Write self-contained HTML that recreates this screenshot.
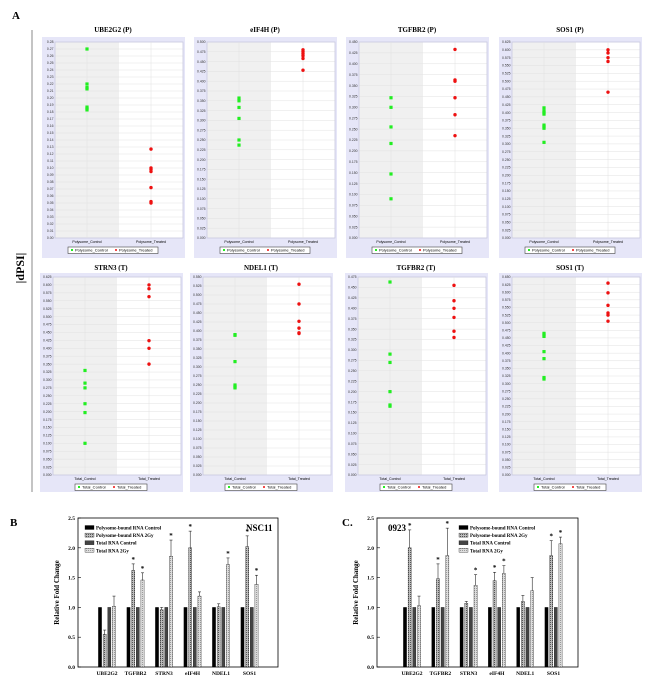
<!DOCTYPE html>
<html><head><meta charset="utf-8"><style>
html,body{margin:0;padding:0;background:#fff;}
svg{display:block;font-family:"Liberation Serif",serif;}
.s{font-family:"Liberation Sans",sans-serif;}
</style></head><body>
<svg id="fig" width="650" height="682" viewBox="0 0 650 682" xmlns="http://www.w3.org/2000/svg">
<text x="12" y="19" font-size="11" font-weight="bold">A</text>
<line x1="32" y1="30" x2="32" y2="492" stroke="#888" stroke-width="1"/>
<text transform="translate(24,268) rotate(-90)" font-size="12" font-weight="bold" text-anchor="middle">|dPSI|</text>
<text x="10" y="526" font-size="11" font-weight="bold">B</text>
<text x="342" y="526" font-size="11" font-weight="bold">C.</text>
<g id="scatters"></g>
<g id="bars"></g>
</svg>
<script>
// ---- Scatter panel data ----
const scTitles = ["UBE2G2 (P)","eIF4H (P)","TGFBR2 (P)","SOS1 (P)","STRN3 (T)","NDEL1 (T)","TGFBR2  (T)","SOS1 (T)"];
const scMax = [0.28,0.5,0.45,0.625,0.625,0.55,0.475,0.65];
const scStep = [0.01,0.025,0.025,0.025,0.025,0.025,0.025,0.025];
const scGreen = [
 [0.27,0.22,0.215,0.213,0.187,0.185,0.183],
 [0.357,0.35,0.333,0.305,0.25,0.237],
 [0.322,0.30,0.255,0.217,0.147,0.09],
 [0.415,0.405,0.40,0.395,0.36,0.355,0.35,0.305],
 [0.33,0.29,0.275,0.225,0.197,0.10],
 [0.39,0.388,0.315,0.25,0.245,0.242],
 [0.463,0.29,0.27,0.2,0.168,0.165],
 [0.465,0.46,0.455,0.405,0.382,0.32,0.315]
];
const scRed = [
 [0.127,0.100,0.098,0.095,0.072,0.052,0.050],
 [0.48,0.475,0.47,0.465,0.458,0.428],
 [0.433,0.363,0.360,0.322,0.283,0.235],
 [0.60,0.59,0.575,0.563,0.465],
 [0.60,0.588,0.563,0.424,0.40,0.35],
 [0.53,0.475,0.427,0.408,0.395,0.393],
 [0.455,0.418,0.40,0.378,0.345,0.33],
 [0.63,0.598,0.557,0.532,0.525,0.505]
];
const scCats = [["Polysome_Control","Polysome_Treated"],["Total_Control","Total_Treated"]];

// ---- Bar chart data ----
const barCats = ["UBE2G2","TGFBR2","STRN3","eIF4H","NDEL1","SOS1"];
const barSeries = ["Polysome-bound RNA Control","Polysome-bound RNA 2Gy","Total RNA Control","Total RNA 2Gy"];
const bPolyCtl = [1,1,1,1,1,1];
const bPoly2Gy = [0.55,1.62,0.96,2.0,1.01,2.02];
const bPoly2GyErr = [0.07,0.11,0.04,0.28,0.05,0.18];
const bTotCtl = [1,1,1,1,1,1];
const bTot2Gy = [1.02,1.46,1.86,1.19,1.72,1.39];
const bTot2GyErr = [0.17,0.12,0.27,0.07,0.11,0.15];
const bStars = [[0,0,0,0],[0,1,0,1],[0,0,0,1],[0,1,0,0],[0,0,0,1],[0,1,0,1]];
const cPolyCtl = [1,1,1,1,1,1];
const cPoly2Gy = [2.0,1.48,1.07,1.45,1.1,1.87];
const cPoly2GyErr = [0.3,0.25,0.03,0.14,0.1,0.25];
const cTotCtl = [1,1,1,1,1,1];
const cTot2Gy = [1.03,1.87,1.37,1.57,1.28,2.07];
const cTot2GyErr = [0.16,0.46,0.18,0.13,0.22,0.11];
const cStars = [[0,1,0,0],[0,1,0,1],[0,0,0,1],[0,1,0,1],[0,0,0,0],[0,1,0,1]];
const yTicks = [0,0.5,1.0,1.5,2.0,2.5];

const NS="http://www.w3.org/2000/svg";
function mk(tag,attrs,parent,txt){const e=document.createElementNS(NS,tag);for(const k in attrs)e.setAttribute(k,attrs[k]);if(txt!==undefined)e.textContent=txt;parent.appendChild(e);return e;}

const SG=document.getElementById('scatters');
const colX=[[42,194,346,499],[40,190,345,499]];
const rowY=[{title:32,box:37,top:42,bot:238,lab:242,leg:250,boxEnd:258},{title:270,box:273,top:277,bot:475,lab:479,leg:487,boxEnd:492}];
for(let i=0;i<8;i++){
  const r=Math.floor(i/4), c=i%4, px=colX[r][c], R=rowY[r];
  const g=mk('g',{},SG);
  
  
  const t=mk('text',{x:px+71,y:R.title,'font-size':7,'font-weight':'bold','text-anchor':'middle'},g,scTitles[i]);
  
  
  mk('rect',{x:px,y:R.box,width:143,height:R.boxEnd-R.box,fill:'#e6e6f8'},g);
  const L=px+13, W=128, T=R.top, B=R.bot;
  mk('rect',{x:L,y:T,width:W/2,height:B-T,fill:'#f0f0f0'},g);
  mk('rect',{x:L+W/2,y:T,width:W/2,height:B-T,fill:'#fff'},g);
  const ys=v=>B-(v/scMax[i])*(B-T);
  const n=Math.round(scMax[i]/scStep[i]);
  for(let k=0;k<=n;k++){
    const v=k*scStep[i], y=ys(v);
    mk('line',{x1:L,x2:L+W,y1:y,y2:y,stroke:'#e2e2e2','stroke-width':0.5},g);
    const tl=mk('text',{x:L-1.5,y:y+1.2,'font-size':3.4,'text-anchor':'end',fill:'#333',class:'s'},g,v.toFixed(scStep[i]<0.02?2:3));
    
    
  }
  mk('rect',{x:L,y:T,width:W,height:B-T,fill:'none',stroke:'#c8c8e0','stroke-width':0.8},g);
  const cx=[L+W/4,L+3*W/4];
  cx.forEach(x=>mk('line',{x1:x,x2:x,y1:T,y2:B,stroke:'#e0e0e0','stroke-width':0.5},g));
  scCats[r].forEach((cn,j)=>{const e=mk('text',{x:cx[j],y:R.lab+1,'font-size':3.6,'text-anchor':'middle',class:'s'},g,cn);
    
    });
  scGreen[i].forEach(v=>{const p=mk('rect',{x:cx[0]-1.6,y:ys(v)-1.6,width:3.2,height:3.2,fill:'#22ee22'},g);
    
    });
  scRed[i].forEach(v=>{const p=mk('circle',{cx:cx[1],cy:ys(v),r:1.7,fill:'#ee1111'},g);
    
    });
  const lw=r===0?90:72, lx=px+71-lw/2;
  const lg=mk('g',{},g);
  
  
  mk('rect',{x:lx,y:R.leg-3,width:lw,height:6.5,fill:'#fff',stroke:'#444','stroke-width':0.6},lg);
  mk('rect',{x:lx+3,y:R.leg-1,width:2,height:2,fill:'#22ee22'},lg);
  mk('text',{x:lx+7,y:R.leg+1.4,'font-size':4,class:'s'},lg,scCats[r][0]);
  mk('circle',{cx:lx+lw/2+3,cy:R.leg,r:1,fill:'#ee1111'},lg);
  mk('text',{x:lx+lw/2+6,y:R.leg+1.4,'font-size':4,class:'s'},lg,scCats[r][1]);
}

// ---- bar charts ----
const BG=document.getElementById('bars');
const defs=mk('defs',{},BG);
const p1=mk('pattern',{id:'pat1',width:2,height:2,patternUnits:'userSpaceOnUse'},defs);
mk('rect',{width:2,height:2,fill:'#bbb'},p1);mk('rect',{width:1,height:1,fill:'#555'},p1);
const p2=mk('pattern',{id:'pat2',width:2,height:2,patternUnits:'userSpaceOnUse'},defs);
mk('rect',{width:2,height:2,fill:'#ddd'},p2);mk('rect',{width:1,height:1,fill:'#999'},p2);
const fills=['#000','url(#pat1)','#444','url(#pat2)'];
function barChart(o){
  const g=mk('g',{},BG);
  
  
  const L=o.L,R=o.R,T=518,B=667;
  const ys=v=>B-(v/2.5)*(B-T);
  mk('rect',{x:L,y:T,width:R-L,height:B-T,fill:'none',stroke:'#000','stroke-width':0.8},g);
  yTicks.forEach(v=>{const y=ys(v);mk('line',{x1:L,x2:L+3,y1:y,y2:y,stroke:'#000','stroke-width':0.6},g);
    const e=mk('text',{x:L-3,y:y+2,'font-size':5.5,'font-weight':'bold','text-anchor':'end'},g,v.toFixed(1));
    
    });
  const yl=mk('text',{transform:`translate(${L-19},${(T+B)/2}) rotate(-90)`,'font-size':7,'font-weight':'bold','text-anchor':'middle'},g,'Relative Fold Change');
  
  
  const offs=[-7,-2.3,2.3,7];
  const vals=[o.pc,o.p2,o.tc,o.t2], errs=[null,o.p2e,null,o.t2e];
  barCats.forEach((cn,i)=>{
    const cx=o.c0+i*o.sp;
    const e=mk('text',{x:cx,y:B+8,'font-size':5.5,'font-weight':'bold','text-anchor':'middle'},g,cn);
    
    
    for(let s=0;s<4;s++){
      const v=vals[s][i], x=cx+offs[s];
      const b=mk('rect',{x:x-1.6,y:ys(v),width:3.2,height:B-ys(v),fill:fills[s],stroke:'#000','stroke-width':0.3},g);
      
      
      if(errs[s]){const ye=ys(v+errs[s][i]);
        mk('line',{x1:x,x2:x,y1:ye,y2:ys(v),stroke:'#000','stroke-width':0.5},g);
        mk('line',{x1:x-1.5,x2:x+1.5,y1:ye,y2:ye,stroke:'#000','stroke-width':0.5},g);
        if(o.st[i][s]){const st=mk('text',{x:x,y:ye-2,'font-size':7,'font-weight':'bold','text-anchor':'middle'},g,'*');
          
          }
      }
    }
  });
  const lg=mk('g',{},g);
  
  
  barSeries.forEach((sn,s)=>{const y=528+s*7.6;
    mk('rect',{x:o.lx,y:y-2.5,width:9,height:4,fill:fills[s],stroke:'#000','stroke-width':0.3},lg);
    mk('text',{x:o.lx+11,y:y+1.5,'font-size':5,'font-weight':'bold'},lg,sn);});
  const tag=mk('text',{x:o.tx,y:o.ty,'font-size':9,'font-weight':'bold'},g,o.tag);
  
  
}
barChart({name:'bar-chart-nsc11',L:78,R:278,c0:107,sp:28.5,pc:bPolyCtl,p2:bPoly2Gy,p2e:bPoly2GyErr,tc:bTotCtl,t2:bTot2Gy,t2e:bTot2GyErr,st:bStars,lx:85,tag:'NSC11',tx:246,ty:531});
barChart({name:'bar-chart-0923',L:377,R:578,c0:412,sp:28.3,pc:cPolyCtl,p2:cPoly2Gy,p2e:cPoly2GyErr,tc:cTotCtl,t2:cTot2Gy,t2e:cTot2GyErr,st:cStars,lx:459,tag:'0923',tx:388,ty:531});
</script>
</body></html>
